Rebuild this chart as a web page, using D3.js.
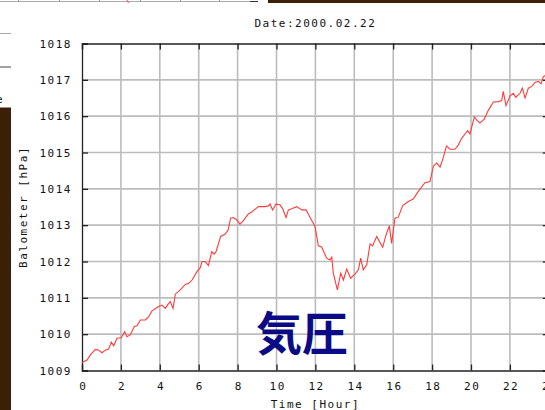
<!DOCTYPE html>
<html>
<head>
<meta charset="utf-8">
<script src="https://cdn.jsdelivr.net/npm/d3@7"></script>
<style>
  html, body { margin: 0; padding: 0; background: #fff; overflow: hidden; }
  svg { display: block; }
  .lbl { font-family: "DejaVu Sans Mono", monospace; font-size: 11px; fill: #111; letter-spacing: 1.5px; }
</style>
</head>
<body>
<script>
// Barometer readings for one day (hour of day, hPa)
const hours = [0, 0.26, 0.43, 0.69, 0.86, 1.03, 1.2, 1.37, 1.51, 1.63, 1.8, 2.02, 2.19, 2.31, 2.48, 2.69, 2.83, 3.0, 3.26, 3.43, 3.6, 3.94, 4.11, 4.28, 4.42, 4.54, 4.68, 4.8, 5.05, 5.31, 5.49, 5.66, 5.91, 6.08, 6.17, 6.3, 6.41, 6.5, 6.67, 6.79, 6.89, 7.13, 7.35, 7.52, 7.64, 7.78, 7.95, 8.12, 8.29, 8.55, 8.72, 9.07, 9.41, 9.58, 9.67, 9.8, 9.97, 10.18, 10.32, 10.49, 10.61, 10.78, 11.04, 11.3, 11.52, 11.72, 11.89, 11.98, 12.07, 12.15, 12.32, 12.58, 12.75, 12.84, 12.92, 13.13, 13.3, 13.44, 13.61, 13.81, 14.04, 14.21, 14.33, 14.46, 14.64, 14.81, 14.94, 15.15, 15.46, 15.63, 15.8, 15.92, 16.09, 16.26, 16.49, 16.78, 17.03, 17.29, 17.63, 17.89, 18.07, 18.24, 18.41, 18.57, 18.74, 18.92, 19.18, 19.35, 19.52, 19.69, 19.83, 19.95, 20.17, 20.29, 20.46, 20.68, 20.89, 21.15, 21.4, 21.58, 21.66, 21.8, 22.01, 22.18, 22.3, 22.52, 22.64, 22.78, 22.95, 23.12, 23.29, 23.46, 23.6, 23.72, 23.8, 24.0];
const pressure = [1009.22, 1009.29, 1009.43, 1009.58, 1009.56, 1009.49, 1009.56, 1009.59, 1009.78, 1009.68, 1009.89, 1009.9, 1010.07, 1009.93, 1009.98, 1010.21, 1010.23, 1010.39, 1010.39, 1010.48, 1010.64, 1010.76, 1010.8, 1010.71, 1010.82, 1010.9, 1010.71, 1011.1, 1011.22, 1011.37, 1011.4, 1011.49, 1011.72, 1011.83, 1012.0, 1012.0, 1011.95, 1011.89, 1012.27, 1012.2, 1012.27, 1012.69, 1012.75, 1012.87, 1013.19, 1013.21, 1013.15, 1013.03, 1013.12, 1013.31, 1013.36, 1013.51, 1013.51, 1013.53, 1013.58, 1013.42, 1013.58, 1013.56, 1013.45, 1013.21, 1013.42, 1013.45, 1013.51, 1013.42, 1013.42, 1013.22, 1013.05, 1012.96, 1012.69, 1012.43, 1012.4, 1012.09, 1012.04, 1012.12, 1011.68, 1011.22, 1011.68, 1011.49, 1011.79, 1011.54, 1011.66, 1011.77, 1012.09, 1011.77, 1011.91, 1012.48, 1012.43, 1012.69, 1012.39, 1012.73, 1012.98, 1012.5, 1013.19, 1013.22, 1013.54, 1013.65, 1013.72, 1013.93, 1014.17, 1014.2, 1014.63, 1014.71, 1014.6, 1014.85, 1015.18, 1015.09, 1015.09, 1015.21, 1015.39, 1015.51, 1015.6, 1015.51, 1015.98, 1015.9, 1015.81, 1015.92, 1016.16, 1016.39, 1016.4, 1016.43, 1016.68, 1016.29, 1016.56, 1016.63, 1016.52, 1016.63, 1016.77, 1016.5, 1016.77, 1016.82, 1016.93, 1016.96, 1016.89, 1017.09, 1017.11, 1017.2];

const xTicks = [0, 2, 4, 6, 8, 10, 12, 14, 16, 18, 20, 22, 24];
const yTicks = [1009, 1010, 1011, 1012, 1013, 1014, 1015, 1016, 1017, 1018];
const titleText = "Date:2000.02.22";
const xLabel = "Time [Hour]";
const yLabel = "Balometer [hPa]";
const overlayText = "気圧";

const W = 545, H = 410;
const plotL = 82, plotR = 548.8, plotT = 43.5, plotB = 370.5;

const svg = d3.select("body").append("svg").attr("width", W).attr("height", H);

// neighbouring page pieces around the plot
const brown = "#3b1f07";
svg.append("rect").attr("x", 0).attr("y", 107.5).attr("width", 11).attr("height", H - 107.5).attr("fill", brown);
svg.append("rect").attr("x", 268).attr("y", 0).attr("width", W - 268).attr("height", 3).attr("fill", brown);
svg.append("line").attr("x1", 0).attr("x2", 11).attr("y1", 33.5).attr("y2", 33.5).attr("stroke", "#aaa");
svg.append("line").attr("x1", 0).attr("x2", 11).attr("y1", 67).attr("y2", 67).attr("stroke", "#444");
svg.append("text").attr("x", -4).attr("y", 103).attr("class", "lbl").text("e");
svg.append("line").attr("x1", 0).attr("x2", 256).attr("y1", 1.5).attr("y2", 1.5).attr("stroke", "#aaa");
svg.append("line").attr("x1", 250).attr("x2", 258).attr("y1", 1.5).attr("y2", 1.5).attr("stroke", "#333");
[18, 59, 99, 140, 180, 219].forEach(px => {
  svg.append("line").attr("x1", px + 0.5).attr("x2", px + 0.5).attr("y1", 0).attr("y2", 2).attr("stroke", "#999");
});
svg.append("line").attr("x1", 127).attr("x2", 128.5).attr("y1", 0).attr("y2", 3).attr("stroke", "#ff5050");

const x = d3.scaleLinear().domain([0, 24]).range([plotL, plotR]);
const y = d3.scaleLinear().domain([1009, 1018]).range([plotB, plotT]);

// grid
const g = svg.append("g");
g.selectAll(".vg").data(xTicks.slice(1, -1)).enter().append("line")
  .attr("x1", d => x(d)).attr("x2", d => x(d)).attr("y1", plotT).attr("y2", plotB)
  .attr("stroke", "#bcbcbc").attr("stroke-width", 1.6);
g.selectAll(".hg").data(yTicks.slice(1, -1)).enter().append("line")
  .attr("x1", plotL).attr("x2", plotR).attr("y1", d => y(d)).attr("y2", d => y(d))
  .attr("stroke", "#bcbcbc").attr("stroke-width", 1.6);

// axes with inward ticks on all four sides
const tick = 6;
const axBottom = d3.axisBottom(x).tickValues(xTicks).tickSize(-tick).tickPadding(tick + 6).tickFormat(d3.format("d"));
const axTop = d3.axisTop(x).tickValues(xTicks).tickSize(-tick).tickFormat("");
const axLeft = d3.axisLeft(y).tickValues(yTicks).tickSize(-tick).tickPadding(tick + 4).tickFormat(d3.format("d"));
const axRight = d3.axisRight(y).tickValues(yTicks).tickSize(-tick).tickFormat("");

function style(sel) {
  sel.select(".domain").attr("stroke", "#222").attr("stroke-width", 1.3);
  sel.selectAll(".tick line").attr("stroke", "#222").attr("stroke-width", 1.3);
  sel.selectAll(".tick text").attr("class", "lbl").attr("fill", "#111");
  sel.attr("font-family", null).attr("font-size", null);
}
svg.append("g").attr("transform", `translate(0,${plotB})`).call(axBottom).call(style)
  .selectAll(".tick text").attr("dy", "0.71em").attr("dx", "0.7px");
svg.append("g").attr("transform", `translate(0,${plotT})`).call(axTop).call(style);
svg.append("g").attr("transform", `translate(${plotL},0)`).call(axLeft).call(style);
svg.append("g").attr("transform", `translate(${plotR},0)`).call(axRight).call(style);

// pressure trace
const pts = hours.map((h, i) => [h, pressure[i]]);
svg.append("path").datum(pts)
  .attr("fill", "none").attr("stroke", "#ff3b3b").attr("stroke-width", 1.1)
  .attr("d", d3.line().x(d => x(d[0])).y(d => y(d[1])));

// titles
svg.append("text").attr("class", "lbl").attr("x", (plotL + plotR) / 2).attr("y", 27)
  .attr("text-anchor", "middle").text(titleText);
svg.append("text").attr("class", "lbl").attr("x", (plotL + plotR) / 2).attr("y", 407.5)
  .attr("text-anchor", "middle").text(xLabel);
svg.append("text").attr("class", "lbl")
  .attr("transform", `translate(27,${(plotT + plotB) / 2}) rotate(-90)`)
  .attr("text-anchor", "middle").text(yLabel);

svg.append("text").attr("x", 256).attr("y", 350)
  .attr("font-family", "'Noto Sans CJK JP', sans-serif").attr("font-weight", "bold")
  .attr("font-size", 46).attr("fill", "#0b0b86").text(overlayText);
</script>
</body>
</html>
